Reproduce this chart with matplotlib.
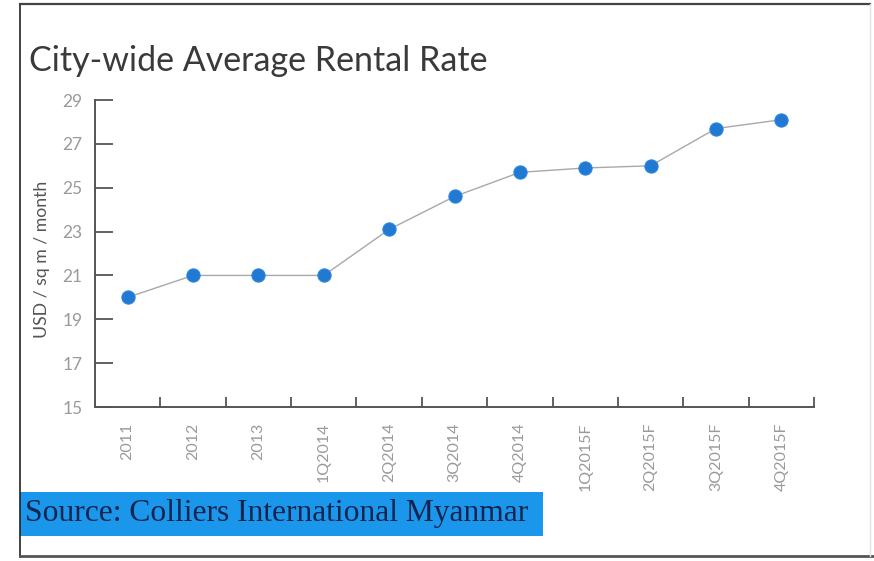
import matplotlib
matplotlib.use("Agg")
import matplotlib.pyplot as plt
from matplotlib.patches import Rectangle
from matplotlib.lines import Line2D

periods = ["2011", "2012", "2013", "1Q2014", "2Q2014", "3Q2014", "4Q2014",
           "1Q2015F", "2Q2015F", "3Q2015F", "4Q2015F"]
rental_rate = [20.0, 21.0, 21.0, 21.0, 23.1, 24.6, 25.7, 25.9, 26.0, 27.7, 28.1]
y_ticks = [15, 17, 19, 21, 23, 25, 27, 29]

W, H = 874, 561
fig = plt.figure(figsize=(W / 100, H / 100), dpi=100)
fig.patch.set_facecolor("white")

# outer frame
fig.add_artist(Line2D([20 / W, 20 / W], [1 - 4 / H, 1 - 557 / H], transform=fig.transFigure,
                      color="#222222", lw=1.2))
fig.add_artist(Line2D([20 / W, 870 / W], [1 - 4 / H, 1 - 4 / H], transform=fig.transFigure,
                      color="#444444", lw=1.6))
fig.add_artist(Line2D([20 / W, 874 / W], [1 - 556 / H, 1 - 556 / H], transform=fig.transFigure,
                      color="#555555", lw=2.0))
fig.add_artist(Line2D([870 / W, 870 / W], [1 - 4 / H, 1 - 556 / H], transform=fig.transFigure,
                      color="#e4e4e4", lw=1.0))

fig.text(29 / W, 1 - 61 / H, "City-wide Average Rental Rate", fontsize=24.5,
         family="Lato", color="#3a3a3a", va="center", ha="left")

left, right, top, bottom = 95, 814, 100, 407
ax = fig.add_axes([left / W, 1 - bottom / H, (right - left) / W, (bottom - top) / H])
ax.set_facecolor("none")

x = list(range(len(periods)))
ax.plot(x, rental_rate, color="#a8a8a8", lw=1.0, zorder=2)
ax.plot(x, rental_rate, linestyle="none", marker="o", ms=9.5,
        markerfacecolor="#2279d2", markeredgecolor="#2a86e0", mew=0.8, zorder=3)

ax.set_xlim(-0.5, len(periods) - 0.5)
ax.set_ylim(15, 29)
ax.set_yticks(y_ticks)
ax.set_yticklabels([str(v) for v in y_ticks])

# category labels at centers, tick marks between categories
ax.set_xticks(x)
ax.set_xticklabels(periods, rotation=90, va="top", ha="center")
ax.set_xticks([i + 0.5 for i in x], minor=True)
ax.tick_params(axis="x", which="major", length=0, pad=11, labelsize=11.5, labelcolor="#9a9a9a")
ax.tick_params(axis="x", which="minor", direction="in", length=7, width=1.3, color="#555555")
ax.tick_params(axis="y", direction="in", length=13, width=1.3, color="#555555",
               pad=9, labelsize=12.5, labelcolor="#9a9a9a")
for lab in ax.get_xticklabels() + ax.get_yticklabels():
    lab.set_family("Lato")

for s in ("top", "right"):
    ax.spines[s].set_visible(False)
for s in ("left", "bottom"):
    ax.spines[s].set_color("#555555")
    ax.spines[s].set_linewidth(1.4)

fig.text(42 / W, 1 - 259 / H, "USD / sq m / month", rotation=90, fontsize=12.7,
         family="Lato", color="#555555", va="center", ha="center")

# source banner
fig.add_artist(Rectangle((20 / W, 1 - 536 / H), (543 - 20) / W, (536 - 492) / H,
                         transform=fig.transFigure, facecolor="#1a96ea", edgecolor="none"))
fig.text(25 / W, 1 - 514 / H, "Source: Colliers International Myanmar", fontsize=22.7,
         family="Liberation Serif", color="#15234f", va="center", ha="left")

fig.savefig("out.png", dpi=100)
